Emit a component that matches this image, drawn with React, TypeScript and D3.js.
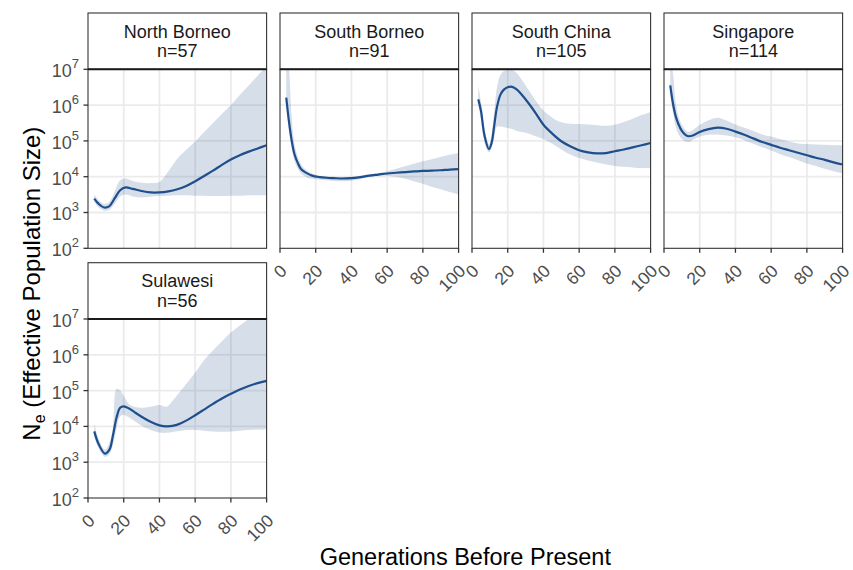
import React from "react";
import * as d3 from "d3";

// ---------- data (log10 Ne) ----------
const populations = ["North Borneo", "South Borneo", "South China", "Singapore", "Sulawesi"];
const sampleSizes = [57, 91, 105, 114, 56];

const northBorneoGen = [3.5, 6, 9, 12, 15, 18, 21, 25, 30, 35, 40, 45, 50, 55, 60, 65, 70, 75, 80, 85, 90, 95, 100];
const northBorneoNe = [3.39, 3.24, 3.14, 3.18, 3.4, 3.62, 3.7, 3.66, 3.6, 3.56, 3.56, 3.59, 3.65, 3.74, 3.87, 4.02, 4.17, 4.33, 4.48, 4.6, 4.7, 4.79, 4.88];
const northBorneoHi = [3.5, 3.34, 3.24, 3.3, 3.6, 3.9, 3.95, 3.88, 3.83, 3.82, 3.85, 4.15, 4.5, 4.75, 4.98, 5.25, 5.5, 5.75, 6.0, 6.28, 6.55, 6.82, 7.1];
const northBorneoLo = [3.3, 3.14, 3.05, 3.08, 3.25, 3.45, 3.5, 3.45, 3.42, 3.44, 3.46, 3.47, 3.48, 3.48, 3.47, 3.47, 3.46, 3.46, 3.47, 3.47, 3.48, 3.48, 3.48];

const southBorneoGen = [3.5, 5, 6.5, 8, 10, 12, 15, 18, 22, 26, 30, 35, 40, 45, 50, 55, 60, 65, 70, 75, 80, 85, 90, 95, 100];
const southBorneoNe = [6.21, 5.55, 5.02, 4.65, 4.38, 4.2, 4.1, 4.03, 3.99, 3.97, 3.96, 3.95, 3.96, 3.99, 4.03, 4.06, 4.09, 4.11, 4.13, 4.15, 4.16, 4.17, 4.18, 4.2, 4.21];
const southBorneoHi = [7.5, 7.0, 5.7, 4.95, 4.55, 4.33, 4.17, 4.08, 4.03, 4.01, 4.0, 3.99, 4.0, 4.03, 4.06, 4.1, 4.15, 4.22, 4.29, 4.36, 4.43, 4.49, 4.55, 4.61, 4.66];
const southBorneoLo = [6.0, 5.3, 4.8, 4.45, 4.22, 4.08, 3.98, 3.94, 3.92, 3.9, 3.89, 3.87, 3.89, 3.93, 3.99, 4.02, 4.03, 4.0, 3.94, 3.87, 3.8, 3.72, 3.65, 3.57, 3.5];

const southChinaGen = [3.5, 5, 7, 9.5, 11, 12.5, 14, 16, 18, 20, 22.5, 25, 28, 32, 36, 40, 45, 50, 55, 60, 65, 70, 75, 80, 85, 90, 95, 100];
const southChinaNe = [6.16, 5.85, 5.15, 4.77, 4.95, 5.45, 5.95, 6.3, 6.44, 6.5, 6.51, 6.44, 6.28, 6.03, 5.75, 5.45, 5.2, 4.99, 4.85, 4.74, 4.68, 4.65, 4.66, 4.71, 4.76, 4.82, 4.88, 4.94];
const southChinaHi = [6.55, 6.1, 5.35, 4.9, 5.2, 5.85, 6.5, 6.85, 6.95, 6.97, 6.97, 6.9, 6.7, 6.4, 6.1, 5.85, 5.65, 5.52, 5.48, 5.47, 5.46, 5.44, 5.42, 5.45, 5.53, 5.62, 5.72, 5.81];
const southChinaLo = [6.0, 5.6, 4.95, 4.68, 4.8, 5.1, 5.4, 5.4, 5.38, 5.36, 5.33, 5.28, 5.25, 5.2, 5.12, 5.05, 4.92, 4.76, 4.62, 4.52, 4.45, 4.4, 4.34, 4.3, 4.28, 4.26, 4.24, 4.23];

const singaporeGen = [3.5, 5, 6.5, 8, 10, 12, 14, 17, 20, 25, 30, 35, 40, 45, 50, 55, 60, 65, 70, 75, 80, 85, 90, 95, 100];
const singaporeNe = [6.55, 6.05, 5.7, 5.48, 5.28, 5.17, 5.13, 5.17, 5.25, 5.33, 5.37, 5.34, 5.26, 5.17, 5.07, 4.97, 4.89, 4.81, 4.74, 4.67, 4.6, 4.53, 4.47, 4.4, 4.34];
const singaporeHi = [7.4, 6.9, 6.1, 5.7, 5.45, 5.3, 5.25, 5.33, 5.45, 5.58, 5.65, 5.57, 5.46, 5.37, 5.28, 5.18, 5.12, 5.05, 4.98, 4.93, 4.91, 4.9, 4.89, 4.88, 4.88];
const singaporeLo = [6.3, 5.8, 5.4, 5.2, 5.05, 4.98, 4.97, 5.05, 5.12, 5.17, 5.18, 5.15, 5.1, 5.02, 4.92, 4.82, 4.73, 4.63, 4.55, 4.46, 4.37, 4.3, 4.22, 4.15, 4.09];

const sulawesiGen = [3.5, 6, 9.5, 12, 14, 16, 18, 20, 23, 26, 30, 35, 40, 44, 48, 52, 56, 60, 65, 70, 75, 80, 85, 90, 95, 100];
const sulawesiNe = [3.86, 3.5, 3.24, 3.35, 3.75, 4.25, 4.52, 4.56, 4.5, 4.4, 4.27, 4.13, 4.03, 4.0, 4.02, 4.09, 4.19, 4.31, 4.47, 4.63, 4.78, 4.91, 5.03, 5.13, 5.21, 5.27];
const sulawesiHi = [4.09, 3.65, 3.35, 3.55, 4.0, 5.05, 5.0, 4.85, 4.62, 4.55, 4.52, 4.55, 4.6, 4.55, 4.75, 5.0, 5.25, 5.5, 5.85, 6.12, 6.38, 6.62, 6.82, 7.0, 7.15, 7.3];
const sulawesiLo = [3.72, 3.38, 3.15, 3.22, 3.5, 3.95, 4.28, 4.32, 4.25, 4.15, 4.02, 3.9, 3.83, 3.82, 3.85, 3.88, 3.9, 3.9, 3.88, 3.86, 3.85, 3.86, 3.88, 3.9, 3.91, 3.92];

const xTicks = [0, 20, 40, 60, 80, 100];
const yExponents = [2, 3, 4, 5, 6, 7];

const seriesList = [
  { gen: northBorneoGen, ne: northBorneoNe, hi: northBorneoHi, lo: northBorneoLo },
  { gen: southBorneoGen, ne: southBorneoNe, hi: southBorneoHi, lo: southBorneoLo },
  { gen: southChinaGen, ne: southChinaNe, hi: southChinaHi, lo: southChinaLo },
  { gen: singaporeGen, ne: singaporeNe, hi: singaporeHi, lo: singaporeLo },
  { gen: sulawesiGen, ne: sulawesiNe, hi: sulawesiHi, lo: sulawesiLo },
];

// ---------- layout ----------
const W = 853;
const H = 570;
const LEFT = 88;
const PW = 178.6;
const GAP = 13.4;
const STRIP_H = 56.3;
const PH = 179;
const ROW_TOPS = [13, 262.7];
const FONT = "'Liberation Sans', Arial, Helvetica, sans-serif";
const LINE_COLOR = "#1f4e8c";

const x = d3.scaleLinear().domain([0, 100]).range([0, PW]);
const y = d3.scaleLog().domain([1e2, 1e7]).range([PH, 0]);

function Panel({ i }: { i: number }) {
  const col = i % 4;
  const row = Math.floor(i / 4);
  const px = LEFT + col * (PW + GAP);
  const stripTop = ROW_TOPS[row];
  const py = stripTop + STRIP_H;
  const s = seriesList[i];
  const pts = s.gen.map((g, k) => ({ g, ne: Math.pow(10, s.ne[k]), lo: Math.pow(10, s.lo[k]), hi: Math.pow(10, s.hi[k]) }));
  const area = d3
    .area<any>()
    .x((d) => x(d.g))
    .y0((d) => y(d.lo))
    .y1((d) => y(d.hi))
    .curve(d3.curveCatmullRom.alpha(0.5));
  const line = d3
    .line<any>()
    .x((d) => x(d.g))
    .y((d) => y(d.ne))
    .curve(d3.curveCatmullRom.alpha(0.5));
  const showX = row === 1 || col >= 1;
  const showY = col === 0;
  const clipId = `clip${i}`;
  return (
    <g>
      <g transform={`translate(${px},${py})`}>
        <defs>
          <clipPath id={clipId}>
            <rect x={0} y={0} width={PW} height={PH} />
          </clipPath>
        </defs>
        <rect x={0} y={0} width={PW} height={PH} fill="#fff" />
        {xTicks.slice(1, -1).map((t) => (
          <line key={"gx" + t} x1={x(t)} x2={x(t)} y1={0} y2={PH} stroke="#ebebeb" strokeWidth={1.8} />
        ))}
        {yExponents.slice(1, -1).map((e) => (
          <line key={"gy" + e} x1={0} x2={PW} y1={y(Math.pow(10, e))} y2={y(Math.pow(10, e))} stroke="#ebebeb" strokeWidth={1.8} />
        ))}
        <g clipPath={`url(#${clipId})`}>
          <path d={area(pts) || ""} fill={LINE_COLOR} fillOpacity={0.19} />
          <path d={line(pts) || ""} fill="none" stroke={LINE_COLOR} strokeWidth={2.2} />
        </g>
        <rect x={0} y={0} width={PW} height={PH} fill="none" stroke="#333" strokeWidth={1.1} />
        {showX &&
          xTicks.map((t) => (
            <g key={"tx" + t}>
              <line x1={x(t)} x2={x(t)} y1={PH} y2={PH + 4.5} stroke="#333" strokeWidth={1.3} />
              <text
                transform={`translate(${x(t) - 1},${PH + 15}) rotate(-45)`}
                textAnchor="end"
                dy="0.72em"
                fontSize={17.5}
                fill="#4d4d4d"
                fontFamily={FONT}
              >
                {t}
              </text>
            </g>
          ))}
        {showY &&
          yExponents.map((e) => (
            <g key={"ty" + e}>
              <line x1={-4.5} x2={0} y1={y(Math.pow(10, e))} y2={y(Math.pow(10, e))} stroke="#333" strokeWidth={1.3} />
              <text x={-9} y={y(Math.pow(10, e)) + 8} textAnchor="end" fontSize={18} fill="#4d4d4d" fontFamily={FONT}>
                10
                <tspan fontSize={13} dy={-9}>
                  {e}
                </tspan>
              </text>
            </g>
          ))}
      </g>
      <g transform={`translate(${px},${stripTop})`}>
        <rect x={0} y={0} width={PW} height={STRIP_H} fill="#fff" stroke="#333" strokeWidth={1.1} />
        <line x1={0} x2={PW} y1={STRIP_H} y2={STRIP_H} stroke="#1a1a1a" strokeWidth={2} />
        <text x={PW / 2} y={24.5} textAnchor="middle" fontSize={18} fill="#1a1a1a" fontFamily={FONT}>
          {populations[i]}
        </text>
        <text x={PW / 2} y={44} textAnchor="middle" fontSize={18} fill="#1a1a1a" fontFamily={FONT}>
          {`n=${sampleSizes[i]}`}
        </text>
      </g>
    </g>
  );
}

export default function App() {
  const panelsTop = ROW_TOPS[0] + STRIP_H;
  const panelsBottom = ROW_TOPS[1] + STRIP_H + PH;
  const totalRight = LEFT + 4 * PW + 3 * GAP;
  return (
    <svg width={W} height={H} style={{ position: "absolute", left: 0, top: 0, background: "#fff" }}>
      <rect x={0} y={0} width={W} height={H} fill="#fff" />
      {populations.map((_, i) => (
        <Panel key={i} i={i} />
      ))}
      <text
        x={(LEFT + totalRight) / 2}
        y={565}
        textAnchor="middle"
        fontSize={23.5}
        fill="#000"
        fontFamily={FONT}
      >
        Generations Before Present
      </text>
      <text
        transform={`translate(40,${(panelsTop + panelsBottom) / 2}) rotate(-90)`}
        textAnchor="middle"
        fontSize={24}
        fill="#000"
        fontFamily={FONT}
      >
        N
        <tspan fontSize={16} dy={5}>
          e
        </tspan>
        <tspan dy={-5}> (Effective Population Size)</tspan>
      </text>
    </svg>
  );
}
